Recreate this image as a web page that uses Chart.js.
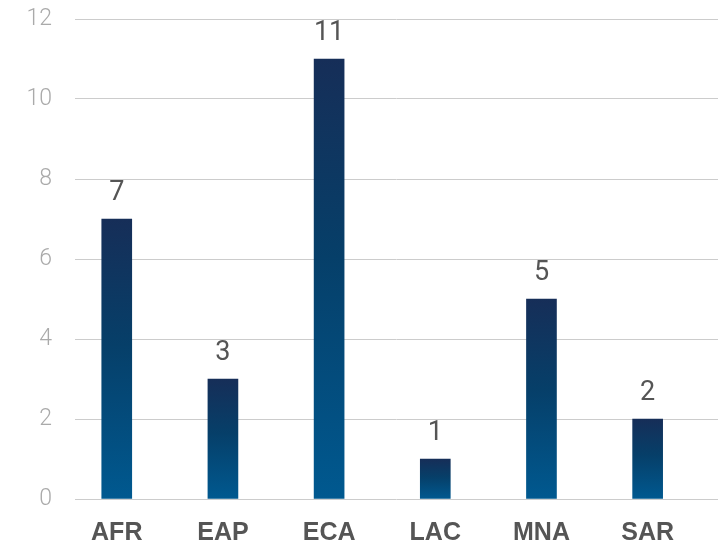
<!DOCTYPE html>
<html>
<head>
<meta charset="utf-8">
<script src="https://cdn.jsdelivr.net/npm/chart.js@4/dist/chart.umd.min.js"></script>
<style>
  html, body { margin: 0; padding: 0; background: #ffffff; }
  #wrap { width: 718px; height: 544px; position: relative; }
</style>
</head>
<body>
<div id="wrap"><canvas id="c"></canvas></div>
<script>
const categories = ["AFR", "EAP", "ECA", "LAC", "MNA", "SAR"];
const values = [7, 3, 11, 1, 5, 2];
const yTicks = [0, 2, 4, 6, 8, 10, 12];

const valueLabels = {
  id: 'valueLabels',
  afterDatasetsDraw(chart) {
    const ctx = chart.ctx;
    const meta = chart.getDatasetMeta(0);
    ctx.save();
    ctx.font = '400 27px Roboto';
    ctx.fillStyle = '#555555';
    ctx.textAlign = 'center';
    ctx.textBaseline = 'alphabetic';
    meta.data.forEach((el, i) => {
      ctx.fillText(String(values[i]), el.x, el.y - 19);
    });
    ctx.restore();
  }
};

function barGradient(context) {
  const chart = context.chart;
  const i = context.dataIndex;
  const ys = chart.scales && chart.scales.y;
  if (!ys || i === undefined || !chart.chartArea) return '#0a4470';
  const top = ys.getPixelForValue(values[i]);
  const base = ys.getPixelForValue(0);
  const g = chart.ctx.createLinearGradient(0, top, 0, base);
  g.addColorStop(0, '#162e58');
  g.addColorStop(0.45, '#063f69');
  g.addColorStop(1, '#005990');
  return g;
}

new Chart(document.getElementById('c'), {
  type: 'bar',
  data: {
    datasets: [{
      data: categories.map((c, i) => ({ x: i, y: values[i] })),
      backgroundColor: barGradient,
      borderWidth: 0,
      barThickness: 30
    }]
  },
  options: {
    responsive: true,
    maintainAspectRatio: false,
    animation: false,
    layout: { padding: { top: 19, right: 0, bottom: 0, left: 0 } },
    plugins: { legend: { display: false }, tooltip: { enabled: false } },
    scales: {
      x: {
        type: 'linear',
        offset: false,
        min: -0.3932,
        max: 5.6626,
        afterBuildTicks(scale) { scale.ticks = categories.map((_, i) => ({ value: i })); },
        afterFit(scale) { scale.height = 45; scale.paddingLeft = 0; scale.paddingRight = 0; },
        ticks: {
          callback: (v) => categories[v],
          font: { family: 'Liberation Sans', size: 25, weight: 'bold' },
          color: '#555555',
          padding: 19,
          maxRotation: 0,
          autoSkip: false
        },
        grid: { display: false, drawTicks: false, offset: false },
        border: { display: false }
      },
      y: {
        min: 0,
        max: 12,
        afterBuildTicks(scale) { scale.ticks = yTicks.map(v => ({ value: v })); },
        afterFit(scale) { scale.width = 75; scale.paddingTop = 0; scale.paddingBottom = 0; },
        ticks: {
          font: { family: 'Roboto', size: 23, weight: '300' },
          color: '#aaaaaa',
          padding: 23
        },
        grid: { color: '#cccccc', lineWidth: 1, drawTicks: false },
        border: { display: false }
      }
    }
  },
  plugins: [valueLabels]
});
</script>
</body>
</html>
